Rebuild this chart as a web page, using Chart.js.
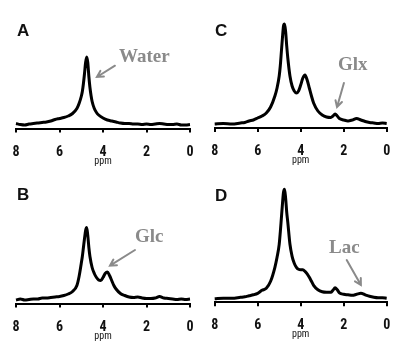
<!DOCTYPE html>
<html>
<head>
<meta charset="utf-8">
<script src="https://cdn.jsdelivr.net/npm/chart.js@4"></script>
<style>
  body { margin: 0; background: #fff; }
  #wrap { position: relative; width: 400px; height: 349px; }
  canvas { position: absolute; }
</style>
</head>
<body>
<div id="wrap">
  <canvas id="chartA" width="200" height="175" style="left:0;top:0"></canvas>
  <canvas id="chartC" width="200" height="175" style="left:200px;top:0"></canvas>
  <canvas id="chartB" width="200" height="174" style="left:0;top:175px"></canvas>
  <canvas id="chartD" width="200" height="174" style="left:200px;top:175px"></canvas>
</div>
<script>
// spectra: chemical shift (ppm) and signal height
const ppmA = [8.0, 7.8, 7.6, 7.4, 7.2, 7.0, 6.8, 6.6, 6.4, 6.2, 6.0, 5.8, 5.6, 5.4, 5.2, 5.1, 5.0, 4.95, 4.9, 4.85, 4.8, 4.75, 4.7, 4.65, 4.6, 4.55, 4.5, 4.4, 4.3, 4.2, 4.0, 3.8, 3.6, 3.4, 3.2, 3.0, 2.8, 2.6, 2.4, 2.2, 2.0, 1.8, 1.6, 1.4, 1.2, 1.0, 0.8, 0.6, 0.4, 0.2, 0.0];
const intA = [5, 4, 3.5, 4.5, 5, 5.5, 6, 6.5, 7.5, 9, 10, 11, 12.5, 15, 20, 25, 32, 37, 45, 55, 66, 71.5, 66, 52, 41, 33, 27, 20, 16, 13.5, 10.5, 8.5, 7.5, 6.5, 5.5, 5, 5, 4.5, 4.5, 4, 4.5, 4, 4.5, 5, 4.5, 4, 4, 4.5, 3.5, 3.5, 4];

const ppmB = [8.0, 7.8, 7.6, 7.4, 7.2, 7.0, 6.8, 6.6, 6.4, 6.2, 6.0, 5.8, 5.6, 5.4, 5.2, 5.1, 5.0, 4.95, 4.9, 4.85, 4.8, 4.75, 4.7, 4.65, 4.6, 4.5, 4.4, 4.3, 4.2, 4.1, 4.0, 3.9, 3.8, 3.7, 3.6, 3.5, 3.4, 3.2, 3.0, 2.8, 2.6, 2.4, 2.2, 2.0, 1.8, 1.6, 1.4, 1.2, 1.0, 0.8, 0.6, 0.4, 0.2, 0.0];
const intB = [3.5, 4.5, 3.5, 4, 4.5, 4.5, 5.5, 5.5, 6, 6.5, 7, 8, 9.5, 12, 18, 27, 40, 47, 56, 65, 73, 76, 68, 56, 47, 36, 30, 26, 23.5, 23, 26, 30, 31.5, 28, 23, 18, 14.5, 10, 8, 6.5, 6, 6.5, 5.5, 5, 5, 5.5, 7, 5.5, 5, 4.5, 4, 4.5, 4, 4.5];

const ppmC = [8.0, 7.6, 7.2, 6.8, 6.6, 6.4, 6.2, 6.0, 5.8, 5.6, 5.4, 5.2, 5.1, 5.0, 4.95, 4.9, 4.85, 4.8, 4.75, 4.7, 4.65, 4.6, 4.5, 4.4, 4.3, 4.2, 4.1, 4.0, 3.9, 3.8, 3.7, 3.6, 3.5, 3.4, 3.2, 3.0, 2.8, 2.6, 2.5, 2.4, 2.3, 2.2, 2.0, 1.8, 1.6, 1.4, 1.2, 1.0, 0.8, 0.6, 0.4, 0.2, 0.0];
const intC = [4, 4.5, 4, 5, 5.5, 7, 8, 10, 12, 15, 21, 32, 40, 52, 62, 76, 90, 102, 104, 96, 82, 70, 52, 42, 37, 35, 37, 43, 50, 53, 48, 40, 32, 25, 17, 13, 11, 10.5, 12, 14, 12, 9.5, 8, 7, 8, 9.5, 8, 6.5, 5.5, 5, 4.5, 5, 4.5];

const ppmD = [8.0, 7.6, 7.2, 6.8, 6.6, 6.4, 6.2, 6.0, 5.8, 5.6, 5.4, 5.2, 5.1, 5.0, 4.95, 4.9, 4.85, 4.8, 4.75, 4.7, 4.65, 4.6, 4.5, 4.4, 4.3, 4.2, 4.1, 4.0, 3.9, 3.8, 3.7, 3.6, 3.5, 3.4, 3.2, 3.0, 2.8, 2.6, 2.5, 2.4, 2.3, 2.2, 2.0, 1.8, 1.6, 1.4, 1.2, 1.0, 0.8, 0.6, 0.4, 0.2, 0.0];
const intD = [3.5, 4, 4, 5, 5.5, 6.5, 7.5, 9, 12, 14, 21, 35, 45, 58, 70, 84, 98, 110, 113, 104, 90, 80, 58, 46, 39, 35, 33, 32.5, 32.5, 31, 28.5, 25, 21, 17, 12.5, 10.5, 10, 10, 12, 14.5, 12.5, 9.5, 8, 7.5, 7, 8, 9, 7.5, 6, 5, 4.5, 4.5, 4];

const xTicks = [8, 6, 4, 2, 0];

// letters, notes and arrows on top of each panel
const panelMarks = {
  id: 'panelMarks',
  afterDatasetsDraw(chart, args, opts) {
    const {ctx, scales: {x, y}} = chart;
    ctx.save();
    ctx.fillStyle = '#111';
    ctx.font = 'bold 17px "Liberation Sans", Arial, sans-serif';
    ctx.textBaseline = 'middle';
    ctx.textAlign = 'left';
    ctx.fillText(opts.letter, opts.letterPos[0], opts.letterPos[1]);

    ctx.fillStyle = '#8a8a8a';
    ctx.font = 'bold 19px "Liberation Serif", "Times New Roman", serif';
    ctx.fillText(opts.note, x.getPixelForValue(opts.noteAt[0]), y.getPixelForValue(opts.noteAt[1]));

    const x1 = x.getPixelForValue(opts.arrowFrom[0]), y1 = y.getPixelForValue(opts.arrowFrom[1]);
    const x2 = x.getPixelForValue(opts.arrowTo[0]), y2 = y.getPixelForValue(opts.arrowTo[1]);
    const ang = Math.atan2(y2 - y1, x2 - x1);
    ctx.strokeStyle = '#8a8a8a';
    ctx.lineWidth = 2;
    ctx.lineCap = 'round';
    ctx.beginPath();
    ctx.moveTo(x1, y1);
    ctx.lineTo(x2, y2);
    ctx.moveTo(x2 - 7 * Math.cos(ang - 0.5), y2 - 7 * Math.sin(ang - 0.5));
    ctx.lineTo(x2, y2);
    ctx.lineTo(x2 - 7 * Math.cos(ang + 0.5), y2 - 7 * Math.sin(ang + 0.5));
    ctx.stroke();
    ctx.restore();
  }
};

function makeSpectrum(id, ppm, vals, pad, marks) {
  const ctx = document.getElementById(id).getContext('2d');
  return new Chart(ctx, {
    type: 'line',
    data: {
      datasets: [{
        data: ppm.map((p, i) => ({x: p, y: vals[i]})),
        borderColor: '#000',
        borderWidth: 3,
        pointRadius: 0,
        cubicInterpolationMode: 'monotone',
        clip: false
      }]
    },
    options: {
      responsive: false,
      animation: false,
      layout: {padding: pad},
      plugins: {
        legend: {display: false},
        tooltip: {enabled: false},
        panelMarks: marks
      },
      scales: {
        x: {
          type: 'linear',
          reverse: true,
          min: 0,
          max: 8,
          afterBuildTicks: (scale) => { scale.ticks = xTicks.map(v => ({value: v})); },
          grid: {drawOnChartArea: false, color: '#000', lineWidth: 2, tickLength: 4},
          border: {display: true, color: '#000', width: 2},
          ticks: {
            color: '#111',
            padding: 2,
            maxRotation: 0,
            font: {family: '"Liberation Sans Narrow", "Roboto Condensed", Roboto, sans-serif', size: 14, weight: 'bold', lineHeight: 2.5}
          },
          title: {
            display: true,
            text: 'ppm',
            color: '#111',
            padding: {top: -15.5, bottom: 0},
            font: {family: '"Liberation Sans Narrow", "Roboto Condensed", Roboto, sans-serif', size: 10, lineHeight: 1}
          }
        },
        y: {display: false, min: 0, max: 120}
      }
    },
    plugins: [panelMarks]
  });
}

makeSpectrum('chartA', ppmA, intA, {left: 16, right: 10, top: 8.5, bottom: 9},
  {letter: 'A', letterPos: [17, 31], note: 'Water', noteAt: [3.26, 71], arrowFrom: [3.45, 62.8], arrowTo: [4.28, 51.5]});
makeSpectrum('chartC', ppmC, intC, {left: 14.7, right: 13.3, top: 8, bottom: 9.5},
  {letter: 'C', letterPos: [15, 31], note: 'Glx', noteAt: [2.27, 63], arrowFrom: [1.99, 45], arrowTo: [2.31, 21]});
makeSpectrum('chartB', ppmB, intB, {left: 16, right: 10, top: 8.5, bottom: 8},
  {letter: 'B', letterPos: [17, 20], note: 'Glc', noteAt: [2.53, 66.8], arrowFrom: [2.53, 53.5], arrowTo: [3.68, 37.8]});
makeSpectrum('chartD', ppmD, intD, {left: 14.7, right: 13.3, top: 7.3, bottom: 9.2},
  {letter: 'D', letterPos: [15, 21.5], note: 'Lac', noteAt: [2.68, 54.5], arrowFrom: [1.86, 42.3], arrowTo: [1.2, 17.3]});
</script>
</body>
</html>
